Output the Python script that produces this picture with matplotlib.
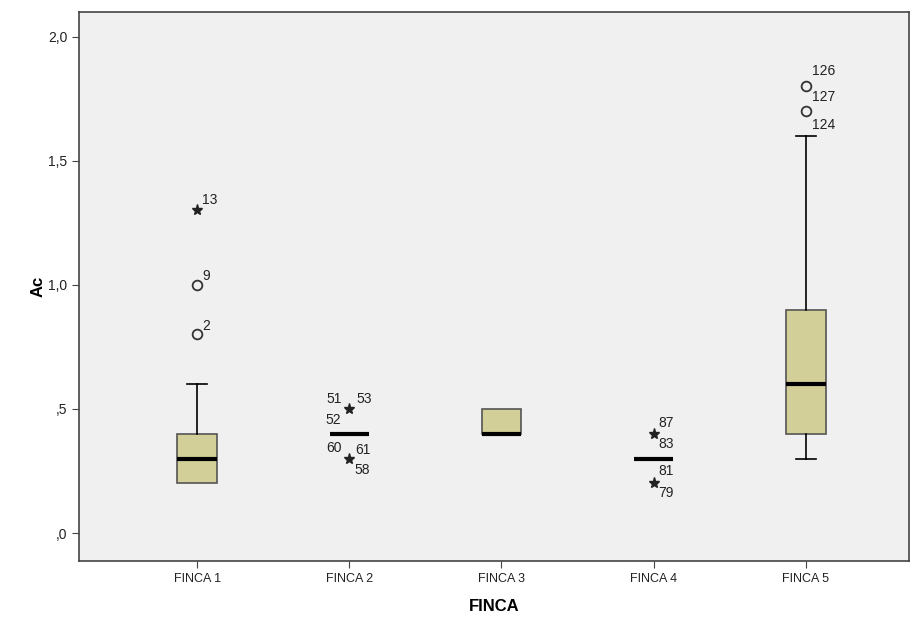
import numpy as np
import matplotlib.pyplot as plt

plt.rcParams['font.family'] = ['Liberation Sans', 'DejaVu Sans']

# box statistics per farm
fincas = ['FINCA 1', 'FINCA 2', 'FINCA 3', 'FINCA 4', 'FINCA 5']
q1 = [0.2, 0.4, 0.4, 0.3, 0.4]
med = [0.3, 0.4, 0.4, 0.3, 0.6]
q3 = [0.4, 0.4, 0.5, 0.3, 0.9]
whislo = [0.2, 0.4, 0.4, 0.3, 0.3]
whishi = [0.6, 0.4, 0.5, 0.3, 1.6]

# outliers (circles) and extremes (stars): group index, value
out_pos = [1, 1, 5, 5]
out_val = [0.8, 1.0, 1.7, 1.8]
ext_pos = [1, 2, 2, 4, 4]
ext_val = [1.3, 0.5, 0.3, 0.4, 0.2]

# case labels: group, value, text, pixel offset
case_pos = [1, 1, 1, 2, 2, 2, 2, 2, 2, 4, 4, 4, 4, 5, 5, 5]
case_val = [1.3, 1.0, 0.8, 0.5, 0.5, 0.5, 0.3, 0.3, 0.3, 0.4, 0.4, 0.2, 0.2, 1.8, 1.8, 1.7]
case_txt = ['13', '9', '2', '51', '53', '52', '60', '61', '58',
            '87', '83', '81', '79', '126', '127', '124']
case_dx = [5, 5, 5, -23, 7, -24, -23, 6, 5, 5, 5, 5, 5, 6, 6, 6]
case_dy = [10, 9, 8, 10, 10, -11, 11, 9, -11, 11, -10, 12, -10, 15, -11, -14]

fill = '#d3cf98'
edge = '#555555'

fig = plt.figure(figsize=(9.12, 6.18), dpi=100)
ax = fig.add_axes([0.087, 0.092, 0.91, 0.889])
ax.set_facecolor('#f0f0f0')

stats = [dict(q1=a, med=b, q3=c, whislo=d, whishi=e, fliers=[])
         for a, b, c, d, e in zip(q1, med, q3, whislo, whishi)]
pos = np.arange(1, len(fincas) + 1)
bp = ax.bxp(stats, positions=pos, widths=0.26, patch_artist=True, showfliers=False,
            boxprops=dict(facecolor=fill, edgecolor=edge, linewidth=1.2),
            medianprops=dict(color='black', linewidth=3),
            whiskerprops=dict(color='black', linewidth=1.2),
            capprops=dict(color='black', linewidth=1.2), capwidths=0.13)

# no whisker or cap when it sits on the box edge
for i in range(len(fincas)):
    if whislo[i] == q1[i]:
        bp['caps'][2 * i].set_visible(False)
        bp['whiskers'][2 * i].set_visible(False)
    if whishi[i] == q3[i]:
        bp['caps'][2 * i + 1].set_visible(False)
        bp['whiskers'][2 * i + 1].set_visible(False)

ax.plot(out_pos, out_val, 'o', ms=7, mfc='none', mec='#333333', mew=1.3, ls='none')
ax.plot(ext_pos, ext_val, '*', ms=8, color='#222222', ls='none')

for p, v, t, dx, dy in zip(case_pos, case_val, case_txt, case_dx, case_dy):
    ax.annotate(t, (p, v), xytext=(dx, dy), textcoords='offset pixels',
                fontsize=10, color='#222222', va='center', ha='left')

ax.set_xlim(0.226, 5.68)
ax.set_ylim(-0.113, 2.1)
ax.set_xticks(pos)
ax.set_xticklabels(fincas, fontsize=9)
ax.set_yticks([0, 0.5, 1.0, 1.5, 2.0])
ax.set_yticklabels([',0', ',5', '1,0', '1,5', '2,0'], fontsize=10)
ax.tick_params(direction='out', length=5, color='#444444', labelcolor='#222222')
for s in ax.spines.values():
    s.set_color('#444444')
    s.set_linewidth(1.2)

ax.set_ylabel('Ac', fontsize=12, fontweight='bold', labelpad=2)
ax.set_xlabel('FINCA', fontsize=12, fontweight='bold', labelpad=10)

fig.savefig('out.png', dpi=100)
